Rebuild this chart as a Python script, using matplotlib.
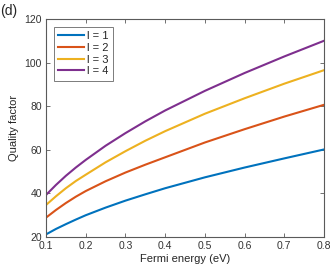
import matplotlib
matplotlib.use("Agg")
import matplotlib.pyplot as plt

plt.rcParams['font.family'] = ['Liberation Sans', 'DejaVu Sans']

energy = [0.1, 0.125, 0.15, 0.175, 0.2, 0.25, 0.3, 0.35, 0.4, 0.5, 0.6, 0.7, 0.8]
q_l1 = [21.1, 23.6, 25.8, 27.9, 29.9, 33.4, 36.6, 39.5, 42.3, 47.3, 51.8, 56.0, 60.1]
q_l2 = [28.8, 32.3, 35.5, 38.4, 41.0, 45.5, 49.5, 53.1, 56.5, 63.3, 69.4, 75.2, 80.6]
q_l3 = [34.6, 38.6, 42.3, 45.6, 48.5, 54.2, 59.3, 64.1, 68.5, 76.5, 83.6, 90.3, 96.5]
q_l4 = [39.2, 43.8, 48.0, 51.8, 55.3, 61.8, 67.6, 73.0, 78.0, 87.0, 95.2, 102.8, 110.0]
labels = ['l = 1', 'l = 2', 'l = 3', 'l = 4']
colors = ['#0072BD', '#D95319', '#EDB120', '#7E2F8E']
xticks = [0.1, 0.2, 0.3, 0.4, 0.5, 0.6, 0.7, 0.8]
yticks = [20, 40, 60, 80, 100, 120]

fig = plt.figure(figsize=(3.32, 2.70), dpi=100)
ax = fig.add_axes([46/332, 1-236.8/270, (324-46)/332, (236.8-19)/270])
for y, lab, c in zip([q_l1, q_l2, q_l3, q_l4], labels, colors):
    ax.plot(energy, y, color=c, lw=1.5, label=lab)

ax.set_xlim(0.1, 0.8)
ax.set_ylim(20, 120)
ax.set_xticks(xticks)
ax.set_xticklabels([f'{v:g}' for v in xticks])
ax.set_yticks(yticks)
axcol = '#5a5a5a'
for s in ax.spines.values():
    s.set_color(axcol)
    s.set_linewidth(0.8)
ax.tick_params(direction='in', top=True, right=True, length=3, width=0.6,
               colors=axcol, labelcolor='#333333', labelsize=7.5, pad=3)
ax.set_xlabel('Fermi energy (eV)', fontsize=8, color='#262626', labelpad=2)
ax.set_ylabel('Quality factor', fontsize=8, color='#262626', labelpad=4)

leg = ax.legend(loc='upper left', fontsize=8, frameon=True, fancybox=False,
                edgecolor=axcol, handlelength=2.3, handletextpad=0.25,
                borderpad=0.4, labelspacing=0.15, borderaxespad=0.7)
leg.get_frame().set_linewidth(0.7)
for t in leg.get_texts():
    t.set_color('#262626')

fig.text(0.0, 0.985, '(d)', fontsize=10, ha='left', va='top', color='#262626')

fig.savefig('out.png', dpi=100)
